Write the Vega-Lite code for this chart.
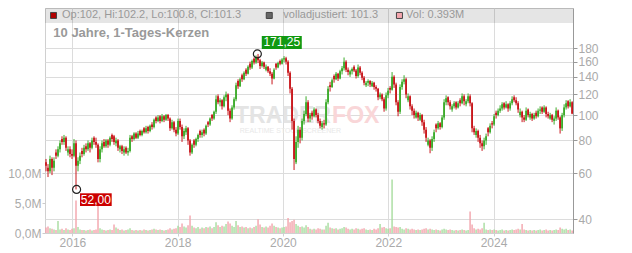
{
"$schema":"https://vega.github.io/schema/vega-lite/v6.json",
"width":528,"height":225,
"autosize":"none",
"padding":{"left":45,"top":8,"right":59,"bottom":20},
"background":"white",
"config":{"font":"Liberation Sans","view":{"stroke":"#d0d0d0"}},
"datasets":{"k":[
{"t":2015.499,"o":66,"h":68,"l":61,"c":64,"v":0.9},
{"t":2015.537,"o":63,"h":65,"l":58,"c":61,"v":1.1},
{"t":2015.575,"o":61,"h":70,"l":60,"c":68,"v":0.8},
{"t":2015.613,"o":68,"h":69,"l":59,"c":63,"v":0.7},
{"t":2015.651,"o":63,"h":69,"l":61,"c":67,"v":0.6},
{"t":2015.689,"o":72,"h":74,"l":68,"c":70,"v":0.5},
{"t":2015.727,"o":70,"h":76,"l":69,"c":74,"v":2.0},
{"t":2015.765,"o":74,"h":80,"l":72,"c":78,"v":0.6},
{"t":2015.803,"o":81,"h":83,"l":77,"c":79,"v":0.7},
{"t":2015.841,"o":79,"h":84,"l":77,"c":82,"v":0.5},
{"t":2015.879,"o":82,"h":83,"l":73,"c":75,"v":0.8},
{"t":2015.917,"o":72,"h":76,"l":70,"c":74,"v":0.6},
{"t":2015.955,"o":74,"h":76,"l":69,"c":71,"v":0.5},
{"t":2015.993,"o":71,"h":74,"l":68,"c":70,"v":0.7},
{"t":2016.031,"o":70,"h":81,"l":69,"c":78,"v":0.8},
{"t":2016.069,"o":78,"h":80,"l":52,"c":64,"v":5.4},
{"t":2016.107,"o":64,"h":69,"l":61,"c":67,"v":1.0},
{"t":2016.145,"o":67,"h":72,"l":65,"c":70,"v":0.6},
{"t":2016.183,"o":73,"h":75,"l":69,"c":71,"v":0.5},
{"t":2016.221,"o":71,"h":77,"l":70,"c":75,"v":0.5},
{"t":2016.259,"o":76,"h":78,"l":72,"c":74,"v":0.4},
{"t":2016.297,"o":74,"h":80,"l":73,"c":78,"v":0.5},
{"t":2016.335,"o":78,"h":79,"l":72,"c":75,"v":0.6},
{"t":2016.373,"o":75,"h":82,"l":74,"c":80,"v":0.4},
{"t":2016.411,"o":82,"h":83,"l":77,"c":79,"v":0.5},
{"t":2016.449,"o":79,"h":82,"l":75,"c":77,"v":0.6},
{"t":2016.487,"o":77,"h":78,"l":66,"c":68,"v":5.0},
{"t":2016.525,"o":68,"h":76,"l":66,"c":74,"v":0.8},
{"t":2016.563,"o":74,"h":80,"l":72,"c":78,"v":0.6},
{"t":2016.601,"o":79,"h":81,"l":75,"c":76,"v":0.5},
{"t":2016.639,"o":76,"h":81,"l":75,"c":80,"v":0.4},
{"t":2016.677,"o":80,"h":81,"l":75,"c":77,"v":0.5},
{"t":2016.715,"o":77,"h":83,"l":76,"c":82,"v":0.6},
{"t":2016.753,"o":84,"h":85,"l":79,"c":81,"v":0.5},
{"t":2016.791,"o":83,"h":84,"l":77,"c":79,"v":1.4},
{"t":2016.829,"o":78,"h":82,"l":76,"c":80,"v":0.9},
{"t":2016.867,"o":80,"h":81,"l":73,"c":75,"v":0.7},
{"t":2016.905,"o":74,"h":77,"l":72,"c":76,"v":0.5},
{"t":2016.943,"o":76,"h":77,"l":71,"c":73,"v":0.6},
{"t":2016.981,"o":72,"h":76,"l":70,"c":74,"v":0.4},
{"t":2017.019,"o":75,"h":76,"l":71,"c":72,"v":0.5},
{"t":2017.057,"o":72,"h":75,"l":70,"c":73,"v":0.6},
{"t":2017.095,"o":73,"h":84,"l":72,"c":82,"v":0.8},
{"t":2017.133,"o":83,"h":84,"l":79,"c":81,"v":0.5},
{"t":2017.171,"o":81,"h":86,"l":80,"c":85,"v":0.4},
{"t":2017.209,"o":85,"h":86,"l":81,"c":82,"v":0.5},
{"t":2017.247,"o":82,"h":87,"l":81,"c":85,"v":0.4},
{"t":2017.285,"o":87,"h":88,"l":83,"c":84,"v":0.5},
{"t":2017.323,"o":84,"h":88,"l":83,"c":87,"v":0.4},
{"t":2017.361,"o":89,"h":90,"l":85,"c":86,"v":0.6},
{"t":2017.399,"o":86,"h":91,"l":85,"c":89,"v":0.5},
{"t":2017.437,"o":90,"h":91,"l":85,"c":87,"v":0.4},
{"t":2017.475,"o":87,"h":92,"l":86,"c":91,"v":0.5},
{"t":2017.513,"o":92,"h":94,"l":88,"c":90,"v":0.6},
{"t":2017.551,"o":90,"h":97,"l":89,"c":96,"v":0.7},
{"t":2017.589,"o":98,"h":99,"l":93,"c":95,"v":0.6},
{"t":2017.627,"o":95,"h":100,"l":94,"c":98,"v":0.5},
{"t":2017.665,"o":99,"h":100,"l":93,"c":95,"v":0.6},
{"t":2017.703,"o":95,"h":101,"l":94,"c":99,"v":0.5},
{"t":2017.741,"o":99,"h":100,"l":94,"c":96,"v":0.4},
{"t":2017.779,"o":96,"h":101,"l":95,"c":100,"v":0.5},
{"t":2017.817,"o":100,"h":101,"l":95,"c":97,"v":0.6},
{"t":2017.855,"o":97,"h":98,"l":87,"c":89,"v":0.8},
{"t":2017.893,"o":89,"h":96,"l":88,"c":94,"v":0.6},
{"t":2017.931,"o":94,"h":95,"l":86,"c":88,"v":0.7},
{"t":2017.969,"o":88,"h":90,"l":83,"c":85,"v":0.8},
{"t":2018.007,"o":85,"h":97,"l":84,"c":95,"v":1.2},
{"t":2018.045,"o":95,"h":97,"l":88,"c":90,"v":1.0},
{"t":2018.083,"o":90,"h":92,"l":79,"c":83,"v":1.6},
{"t":2018.121,"o":83,"h":89,"l":81,"c":87,"v":1.1},
{"t":2018.159,"o":86,"h":91,"l":84,"c":89,"v":0.9},
{"t":2018.197,"o":89,"h":90,"l":77,"c":80,"v":1.3},
{"t":2018.235,"o":80,"h":81,"l":70,"c":72,"v":2.9},
{"t":2018.273,"o":72,"h":78,"l":71,"c":77,"v":1.2},
{"t":2018.311,"o":80,"h":81,"l":75,"c":77,"v":0.9},
{"t":2018.349,"o":77,"h":82,"l":76,"c":81,"v":0.8},
{"t":2018.387,"o":81,"h":85,"l":79,"c":84,"v":1.0},
{"t":2018.425,"o":87,"h":88,"l":82,"c":84,"v":0.7},
{"t":2018.463,"o":84,"h":88,"l":82,"c":86,"v":0.9},
{"t":2018.501,"o":88,"h":89,"l":83,"c":85,"v":0.8},
{"t":2018.539,"o":85,"h":92,"l":84,"c":91,"v":1.0},
{"t":2018.577,"o":94,"h":95,"l":90,"c":92,"v":0.9},
{"t":2018.615,"o":92,"h":98,"l":91,"c":97,"v":1.1},
{"t":2018.653,"o":100,"h":101,"l":95,"c":97,"v":0.8},
{"t":2018.691,"o":97,"h":104,"l":96,"c":103,"v":1.0},
{"t":2018.729,"o":103,"h":119,"l":101,"c":115,"v":1.8},
{"t":2018.767,"o":118,"h":120,"l":110,"c":112,"v":1.3},
{"t":2018.805,"o":112,"h":116,"l":108,"c":114,"v":1.0},
{"t":2018.843,"o":114,"h":115,"l":105,"c":108,"v":1.2},
{"t":2018.881,"o":108,"h":119,"l":107,"c":117,"v":1.1},
{"t":2018.919,"o":117,"h":123,"l":113,"c":120,"v":1.5},
{"t":2018.957,"o":120,"h":121,"l":100,"c":104,"v":1.9},
{"t":2018.995,"o":104,"h":106,"l":94,"c":97,"v":1.6},
{"t":2019.033,"o":97,"h":109,"l":96,"c":107,"v":1.2},
{"t":2019.071,"o":107,"h":117,"l":105,"c":115,"v":1.0},
{"t":2019.109,"o":115,"h":133,"l":113,"c":130,"v":2.0},
{"t":2019.147,"o":135,"h":137,"l":126,"c":129,"v":1.3},
{"t":2019.185,"o":129,"h":139,"l":128,"c":137,"v":1.0},
{"t":2019.223,"o":142,"h":144,"l":134,"c":137,"v":1.1},
{"t":2019.261,"o":137,"h":147,"l":136,"c":145,"v":0.9},
{"t":2019.299,"o":149,"h":151,"l":141,"c":144,"v":1.0},
{"t":2019.337,"o":144,"h":155,"l":143,"c":153,"v":0.8},
{"t":2019.375,"o":157,"h":160,"l":149,"c":152,"v":0.9},
{"t":2019.413,"o":152,"h":163,"l":150,"c":161,"v":0.8},
{"t":2019.451,"o":164,"h":166,"l":156,"c":159,"v":1.0},
{"t":2019.489,"o":159,"h":169,"l":157,"c":167,"v":1.2},
{"t":2019.527,"o":167,"h":171.25,"l":158,"c":162,"v":2.3},
{"t":2019.565,"o":162,"h":164,"l":150,"c":154,"v":1.4},
{"t":2019.603,"o":154,"h":161,"l":152,"c":159,"v":1.0},
{"t":2019.641,"o":159,"h":160,"l":150,"c":153,"v":0.9},
{"t":2019.679,"o":149,"h":156,"l":147,"c":153,"v":1.1},
{"t":2019.717,"o":153,"h":154,"l":145,"c":147,"v":0.9},
{"t":2019.755,"o":147,"h":151,"l":141,"c":144,"v":1.2},
{"t":2019.793,"o":144,"h":146,"l":131,"c":138,"v":1.6},
{"t":2019.831,"o":138,"h":151,"l":137,"c":149,"v":1.2},
{"t":2019.869,"o":157,"h":158,"l":149,"c":152,"v":1.0},
{"t":2019.907,"o":152,"h":160,"l":151,"c":158,"v":0.9},
{"t":2019.945,"o":161,"h":163,"l":155,"c":157,"v":0.8},
{"t":2019.983,"o":157,"h":165,"l":156,"c":163,"v":0.9},
{"t":2020.021,"o":163,"h":168,"l":159,"c":165,"v":1.0},
{"t":2020.059,"o":165,"h":167,"l":156,"c":160,"v":1.1},
{"t":2020.097,"o":160,"h":162,"l":141,"c":145,"v":2.5},
{"t":2020.135,"o":145,"h":147,"l":121,"c":126,"v":1.8},
{"t":2020.173,"o":126,"h":128,"l":88,"c":95,"v":2.0},
{"t":2020.211,"o":95,"h":97,"l":61.7,"c":68,"v":2.2},
{"t":2020.249,"o":66,"h":83,"l":65,"c":79,"v":1.5},
{"t":2020.287,"o":79,"h":91,"l":75,"c":88,"v":1.2},
{"t":2020.325,"o":88,"h":90,"l":78,"c":82,"v":1.0},
{"t":2020.363,"o":82,"h":97,"l":80,"c":95,"v":1.1},
{"t":2020.401,"o":95,"h":104,"l":92,"c":101,"v":0.9},
{"t":2020.439,"o":101,"h":118,"l":99,"c":112,"v":1.3},
{"t":2020.477,"o":112,"h":114,"l":94,"c":97,"v":1.0},
{"t":2020.515,"o":97,"h":102,"l":94,"c":100,"v":0.7},
{"t":2020.553,"o":102,"h":104,"l":96,"c":99,"v":0.6},
{"t":2020.591,"o":99,"h":107,"l":98,"c":105,"v":0.7},
{"t":2020.629,"o":105,"h":106,"l":98,"c":100,"v":0.6},
{"t":2020.667,"o":100,"h":102,"l":93,"c":95,"v":0.8},
{"t":2020.705,"o":95,"h":97,"l":89,"c":91,"v":0.7},
{"t":2020.743,"o":90,"h":95,"l":88,"c":93,"v":0.6},
{"t":2020.781,"o":93,"h":96,"l":89,"c":92,"v":0.6},
{"t":2020.819,"o":92,"h":115,"l":91,"c":112,"v":1.2},
{"t":2020.857,"o":112,"h":129,"l":110,"c":126,"v":1.7},
{"t":2020.895,"o":130,"h":134,"l":123,"c":128,"v":0.9},
{"t":2020.933,"o":128,"h":138,"l":127,"c":136,"v":0.8},
{"t":2020.971,"o":141,"h":143,"l":133,"c":137,"v":0.7},
{"t":2021.009,"o":137,"h":146,"l":136,"c":144,"v":0.8},
{"t":2021.047,"o":144,"h":145,"l":135,"c":138,"v":0.6},
{"t":2021.085,"o":138,"h":149,"l":137,"c":147,"v":0.7},
{"t":2021.123,"o":147,"h":154,"l":143,"c":151,"v":0.8},
{"t":2021.161,"o":151,"h":166,"l":148,"c":160,"v":1.0},
{"t":2021.199,"o":160,"h":162,"l":146,"c":149,"v":0.9},
{"t":2021.237,"o":149,"h":152,"l":142,"c":146,"v":0.7},
{"t":2021.275,"o":143,"h":149,"l":140,"c":147,"v":0.6},
{"t":2021.313,"o":147,"h":152,"l":143,"c":150,"v":0.7},
{"t":2021.351,"o":153,"h":155,"l":146,"c":148,"v":0.6},
{"t":2021.389,"o":148,"h":150,"l":138,"c":141,"v":0.8},
{"t":2021.427,"o":141,"h":156,"l":139,"c":152,"v":0.7},
{"t":2021.465,"o":152,"h":154,"l":142,"c":145,"v":0.6},
{"t":2021.503,"o":145,"h":147,"l":136,"c":139,"v":0.7},
{"t":2021.541,"o":139,"h":141,"l":130,"c":133,"v":0.8},
{"t":2021.579,"o":130,"h":135,"l":128,"c":133,"v":0.6},
{"t":2021.617,"o":133,"h":137,"l":129,"c":135,"v":0.5},
{"t":2021.655,"o":135,"h":136,"l":128,"c":131,"v":0.6},
{"t":2021.693,"o":129,"h":135,"l":128,"c":133,"v":0.5},
{"t":2021.731,"o":133,"h":134,"l":125,"c":128,"v":0.7},
{"t":2021.769,"o":128,"h":130,"l":123,"c":126,"v":0.6},
{"t":2021.807,"o":126,"h":127,"l":114,"c":117,"v":0.8},
{"t":2021.845,"o":117,"h":122,"l":115,"c":120,"v":1.5},
{"t":2021.883,"o":120,"h":121,"l":113,"c":115,"v":0.9},
{"t":2021.921,"o":115,"h":117,"l":103,"c":106,"v":1.0},
{"t":2021.959,"o":106,"h":122,"l":104,"c":119,"v":0.8},
{"t":2021.997,"o":119,"h":127,"l":116,"c":124,"v":0.7},
{"t":2022.035,"o":127,"h":129,"l":121,"c":125,"v":0.8},
{"t":2022.073,"o":125,"h":146,"l":124,"c":140,"v":8.9},
{"t":2022.111,"o":140,"h":142,"l":127,"c":131,"v":1.1},
{"t":2022.149,"o":131,"h":133,"l":109,"c":112,"v":1.0},
{"t":2022.187,"o":112,"h":114,"l":99,"c":103,"v":0.9},
{"t":2022.225,"o":103,"h":131,"l":101,"c":128,"v":1.0},
{"t":2022.263,"o":128,"h":137,"l":125,"c":134,"v":0.7},
{"t":2022.301,"o":134,"h":142,"l":131,"c":137,"v":0.6},
{"t":2022.339,"o":137,"h":139,"l":116,"c":120,"v":0.8},
{"t":2022.377,"o":114,"h":121,"l":112,"c":118,"v":0.7},
{"t":2022.415,"o":118,"h":119,"l":105,"c":108,"v":0.6},
{"t":2022.453,"o":108,"h":110,"l":100,"c":104,"v":0.7},
{"t":2022.491,"o":104,"h":106,"l":97,"c":100,"v":0.6},
{"t":2022.529,"o":98,"h":104,"l":97,"c":102,"v":0.5},
{"t":2022.567,"o":102,"h":103,"l":95,"c":98,"v":0.6},
{"t":2022.605,"o":96,"h":102,"l":95,"c":100,"v":0.5},
{"t":2022.643,"o":100,"h":101,"l":91,"c":94,"v":0.6},
{"t":2022.681,"o":94,"h":96,"l":85,"c":88,"v":0.7},
{"t":2022.719,"o":88,"h":90,"l":79,"c":82,"v":0.8},
{"t":2022.757,"o":77,"h":82,"l":76,"c":80,"v":0.6},
{"t":2022.795,"o":80,"h":81,"l":71.5,"c":75,"v":0.7},
{"t":2022.833,"o":75,"h":83,"l":73,"c":81,"v":0.6},
{"t":2022.871,"o":81,"h":88,"l":79,"c":86,"v":0.5},
{"t":2022.909,"o":92,"h":93,"l":86,"c":89,"v":0.6},
{"t":2022.947,"o":89,"h":95,"l":88,"c":93,"v":0.5},
{"t":2022.985,"o":93,"h":94,"l":88,"c":90,"v":0.4},
{"t":2023.023,"o":90,"h":100,"l":89,"c":98,"v":0.6},
{"t":2023.061,"o":98,"h":115,"l":96,"c":112,"v":0.7},
{"t":2023.099,"o":112,"h":119,"l":109,"c":116,"v":0.6},
{"t":2023.137,"o":117,"h":118,"l":109,"c":112,"v":0.5},
{"t":2023.175,"o":112,"h":114,"l":105,"c":108,"v":0.6},
{"t":2023.213,"o":105,"h":110,"l":103,"c":108,"v":0.5},
{"t":2023.251,"o":108,"h":113,"l":106,"c":111,"v":0.4},
{"t":2023.289,"o":112,"h":113,"l":105,"c":107,"v":0.5},
{"t":2023.327,"o":107,"h":113,"l":106,"c":111,"v":0.4},
{"t":2023.365,"o":114,"h":116,"l":108,"c":111,"v":0.5},
{"t":2023.403,"o":111,"h":121,"l":110,"c":118,"v":0.6},
{"t":2023.441,"o":118,"h":120,"l":109,"c":113,"v":0.5},
{"t":2023.479,"o":110,"h":115,"l":108,"c":113,"v":0.4},
{"t":2023.517,"o":113,"h":121,"l":111,"c":118,"v":0.5},
{"t":2023.555,"o":118,"h":120,"l":108,"c":111,"v":3.6},
{"t":2023.593,"o":111,"h":112,"l":86,"c":89,"v":1.4},
{"t":2023.631,"o":89,"h":91,"l":84,"c":86,"v":0.8},
{"t":2023.669,"o":84,"h":89,"l":82,"c":87,"v":0.6},
{"t":2023.707,"o":87,"h":88,"l":79,"c":82,"v":0.7},
{"t":2023.745,"o":82,"h":84,"l":75,"c":78,"v":0.6},
{"t":2023.783,"o":78,"h":80,"l":73,"c":76,"v":0.8},
{"t":2023.821,"o":76,"h":82,"l":74,"c":80,"v":1.7},
{"t":2023.859,"o":80,"h":85,"l":77,"c":83,"v":0.6},
{"t":2023.897,"o":89,"h":90,"l":83,"c":86,"v":0.5},
{"t":2023.935,"o":86,"h":93,"l":85,"c":91,"v":0.6},
{"t":2023.973,"o":93,"h":95,"l":89,"c":92,"v":0.5},
{"t":2024.011,"o":92,"h":101,"l":91,"c":99,"v":0.6},
{"t":2024.049,"o":102,"h":104,"l":97,"c":100,"v":0.5},
{"t":2024.087,"o":100,"h":106,"l":99,"c":104,"v":0.4},
{"t":2024.125,"o":104,"h":109,"l":102,"c":106,"v":0.5},
{"t":2024.163,"o":106,"h":112,"l":104,"c":110,"v":0.6},
{"t":2024.201,"o":111,"h":112,"l":105,"c":107,"v":0.4},
{"t":2024.239,"o":107,"h":113,"l":106,"c":110,"v":0.5},
{"t":2024.277,"o":110,"h":111,"l":103,"c":106,"v":0.4},
{"t":2024.315,"o":106,"h":113,"l":104,"c":111,"v":0.5},
{"t":2024.353,"o":111,"h":118,"l":109,"c":115,"v":0.6},
{"t":2024.391,"o":117,"h":119,"l":112,"c":114,"v":0.5},
{"t":2024.429,"o":114,"h":117,"l":109,"c":111,"v":0.6},
{"t":2024.467,"o":111,"h":113,"l":102,"c":105,"v":0.7},
{"t":2024.505,"o":100,"h":106,"l":98,"c":103,"v":0.6},
{"t":2024.543,"o":103,"h":104,"l":94,"c":98,"v":1.5},
{"t":2024.581,"o":98,"h":100,"l":94,"c":96,"v":0.6},
{"t":2024.619,"o":96,"h":107,"l":95,"c":104,"v":0.5},
{"t":2024.657,"o":105,"h":106,"l":98,"c":100,"v":0.4},
{"t":2024.695,"o":98,"h":103,"l":96,"c":101,"v":0.5},
{"t":2024.733,"o":101,"h":102,"l":95,"c":97,"v":0.4},
{"t":2024.771,"o":97,"h":102,"l":96,"c":100,"v":0.5},
{"t":2024.809,"o":102,"h":104,"l":97,"c":99,"v":0.4},
{"t":2024.847,"o":99,"h":106,"l":98,"c":104,"v":0.5},
{"t":2024.885,"o":104,"h":108,"l":101,"c":105,"v":0.6},
{"t":2024.923,"o":107,"h":108,"l":101,"c":103,"v":0.4},
{"t":2024.961,"o":103,"h":109,"l":102,"c":107,"v":0.5},
{"t":2024.999,"o":107,"h":108,"l":98,"c":101,"v":0.6},
{"t":2025.037,"o":101,"h":103,"l":97,"c":99,"v":0.4},
{"t":2025.075,"o":97,"h":102,"l":96,"c":100,"v":0.5},
{"t":2025.113,"o":100,"h":101,"l":94,"c":96,"v":0.4},
{"t":2025.151,"o":95,"h":99,"l":92,"c":97,"v":0.5},
{"t":2025.189,"o":97,"h":107,"l":95,"c":104,"v":0.6},
{"t":2025.227,"o":104,"h":105,"l":96,"c":98,"v":0.5},
{"t":2025.265,"o":98,"h":99,"l":85,"c":89,"v":0.9},
{"t":2025.303,"o":89,"h":102,"l":87,"c":100,"v":0.7},
{"t":2025.341,"o":100,"h":110,"l":98,"c":107,"v":0.6},
{"t":2025.379,"o":107,"h":114,"l":105,"c":111,"v":0.7},
{"t":2025.417,"o":113,"h":114,"l":106,"c":108,"v":0.5},
{"t":2025.455,"o":108,"h":115,"l":107,"c":112,"v":0.6},
{"t":2025.493,"o":112,"h":113,"l":100.8,"c":101.3,"v":0.4}
]},
"encoding":{"x":{"field":"t","type":"quantitative","scale":{"domain":[2015.48,2025.51],"nice":false,"zero":false},"axis":{"values":[2016,2018,2020,2022,2024],"format":"d","title":null,"grid":true,"gridColor":"#dcdcdc","domainColor":"#d0d0d0","tickColor":"#d0d0d0","tickSize":3,"labelPadding":1,"labelColor":"#aaaaaa","labelFontSize":12,"labelFont":"Liberation Sans"}}},
"layer":[
{"data":{"name":"k"},
 "mark":{"type":"rule","strokeWidth":1.4},
 "encoding":{
  "y":{"field":"v","type":"quantitative","scale":{"domain":[0,37.5],"nice":false,"zero":true},"axis":{"orient":"left","values":[0,5,10],"grid":false,"domain":false,"title":null,"labelExpr":"replace(format(datum.value,'.1f'),'.',',')+'M'","tickColor":"#cccccc","tickSize":3,"labelPadding":1,"labelColor":"#aaaaaa","labelFontSize":12,"labelFont":"Liberation Sans"}},
  "y2":{"datum":0},
  "color":{"condition":{"test":"datum.c < datum.o","value":"#f3a3ab"},"value":"#a6dc9e"}}},
{"data":{"values":[{"t":2015.48,"t2":2025.51,"p":224.8,"p2":256.5}]},
 "mark":{"type":"rect","fill":"#000000","fillOpacity":0.1},
 "encoding":{"x2":{"field":"t2"},
  "y":{"field":"p","type":"quantitative","scale":{"type":"log","domain":[35.46,256.5],"nice":false},"axis":{"orient":"right","values":[40,60,80,100,120,140,160,180],"format":"d","title":null,"grid":true,"gridColor":"#dcdcdc","domainColor":"#999999","tickColor":"#999999","tickSize":4,"labelPadding":1,"labelColor":"#aaaaaa","labelFontSize":12,"labelFont":"Liberation Sans"}},
  "y2":{"field":"p2"}}},
{"data":{"values":[{"t":2019.09,"p":93.3,"s":"TRADER"}]},
 "mark":{"type":"text","align":"left","baseline":"alphabetic","fontSize":23,"fontWeight":"bold","color":"#e4e4e4"},
 "encoding":{"y":{"field":"p","type":"quantitative","scale":{"type":"log","domain":[35.46,256.5],"nice":false},"axis":null},"text":{"field":"s"}}},
{"data":{"values":[{"t":2020.934,"p":93.3,"s":"FOX"}]},
 "mark":{"type":"text","align":"left","baseline":"alphabetic","fontSize":23,"fontWeight":"bold","color":"#f9d6d8"},
 "encoding":{"y":{"field":"p","type":"quantitative","scale":{"type":"log","domain":[35.46,256.5],"nice":false},"axis":null},"text":{"field":"s"}}},
{"data":{"values":[{"t":2019.18,"p":85.5,"s":"REALTIME STOCK SCREENER"}]},
 "mark":{"type":"text","align":"left","baseline":"alphabetic","fontSize":7,"color":"#e8e8e8"},
 "encoding":{"y":{"field":"p","type":"quantitative","scale":{"type":"log","domain":[35.46,256.5],"nice":false},"axis":null},"text":{"field":"s"}}},
{"data":{"name":"k"},
 "mark":{"type":"rule","strokeWidth":1},
 "encoding":{
  "y":{"field":"l","type":"quantitative","scale":{"type":"log","domain":[35.46,256.5],"nice":false},"axis":null},
  "y2":{"field":"h"},
  "color":{"condition":{"test":"datum.c < datum.o","value":"#c8161b"},"value":"#3cab2b"}}},
{"data":{"name":"k"},
 "mark":{"type":"rule","strokeWidth":1.8},
 "encoding":{
  "y":{"field":"o","type":"quantitative","scale":{"type":"log","domain":[35.46,256.5],"nice":false},"axis":null},
  "y2":{"field":"c"},
  "color":{"condition":{"test":"datum.c < datum.o","value":"#c8161b"},"value":"#3cab2b"}}},
{"data":{"values":[{"t":2016.08,"p":52},{"t":2019.514,"p":171.25}]},
 "mark":{"type":"point","shape":"circle","filled":false,"stroke":"#222222","strokeWidth":1.2,"size":64,"opacity":1},
 "encoding":{"y":{"field":"p","type":"quantitative","scale":{"type":"log","domain":[35.46,256.5],"nice":false},"axis":null}}},
{"data":{"values":[{"t":2016.145,"t2":2016.747,"p":44.96,"p2":50.28}]},
 "mark":{"type":"rect","fill":"#cc0000"},
 "encoding":{"x2":{"field":"t2"},"y":{"field":"p","type":"quantitative","scale":{"type":"log","domain":[35.46,256.5],"nice":false},"axis":null},"y2":{"field":"p2"}}},
{"data":{"values":[{"t":2019.598,"t2":2020.358,"p":178.9,"p2":200.5}]},
 "mark":{"type":"rect","fill":"#119911"},
 "encoding":{"x2":{"field":"t2"},"y":{"field":"p","type":"quantitative","scale":{"type":"log","domain":[35.46,256.5],"nice":false},"axis":null},"y2":{"field":"p2"}}},
{"data":{"values":[{"t":2016.446,"p":47.5,"s":"52,00"},{"t":2019.978,"p":189.4,"s":"171,25"}]},
 "mark":{"type":"text","align":"center","baseline":"middle","fontSize":12,"color":"#ffffff"},
 "encoding":{"y":{"field":"p","type":"quantitative","scale":{"type":"log","domain":[35.46,256.5],"nice":false},"axis":null},"text":{"field":"s"}}},
{"data":{"values":[{"t":2015.638,"p":205.4,"s":"10 Jahre, 1-Tages-Kerzen"}]},
 "mark":{"type":"text","align":"left","baseline":"middle","fontSize":13,"fontWeight":"bold","color":"#999999"},
 "encoding":{"y":{"field":"p","type":"quantitative","scale":{"type":"log","domain":[35.46,256.5],"nice":false},"axis":null},"text":{"field":"s"}}},
{"data":{"values":[{"t":2015.803,"p":240.2,"s":"Op:102, Hi:102.2, Lo:100.8, Cl:101.3"},{"t":2020.008,"p":240.2,"s":"volladjustiert: 101.3"},{"t":2022.34,"p":240.2,"s":"Vol: 0.393M"}]},
 "mark":{"type":"text","align":"left","baseline":"middle","fontSize":11,"color":"#999999"},
 "encoding":{"y":{"field":"p","type":"quantitative","scale":{"type":"log","domain":[35.46,256.5],"nice":false},"axis":null},"text":{"field":"s"}}},
{"data":{"values":[{"t":2015.642,"p":240.2}]},
 "mark":{"type":"point","shape":"square","filled":true,"fill":"#b00000","stroke":"#444444","strokeWidth":1,"size":36,"opacity":1},
 "encoding":{"y":{"field":"p","type":"quantitative","scale":{"type":"log","domain":[35.46,256.5],"nice":false},"axis":null}}},
{"data":{"values":[{"t":2019.74,"p":240.2}]},
 "mark":{"type":"point","shape":"square","filled":true,"fill":"#666666","stroke":"#444444","strokeWidth":1,"size":36,"opacity":1},
 "encoding":{"y":{"field":"p","type":"quantitative","scale":{"type":"log","domain":[35.46,256.5],"nice":false},"axis":null}}},
{"data":{"values":[{"t":2022.213,"p":240.2}]},
 "mark":{"type":"point","shape":"square","filled":true,"fill":"#f4a6ae","stroke":"#444444","strokeWidth":1,"size":36,"opacity":1},
 "encoding":{"y":{"field":"p","type":"quantitative","scale":{"type":"log","domain":[35.46,256.5],"nice":false},"axis":null}}}
],
"resolve":{"scale":{"y":"independent"},"axis":{"y":"independent"}}
}
